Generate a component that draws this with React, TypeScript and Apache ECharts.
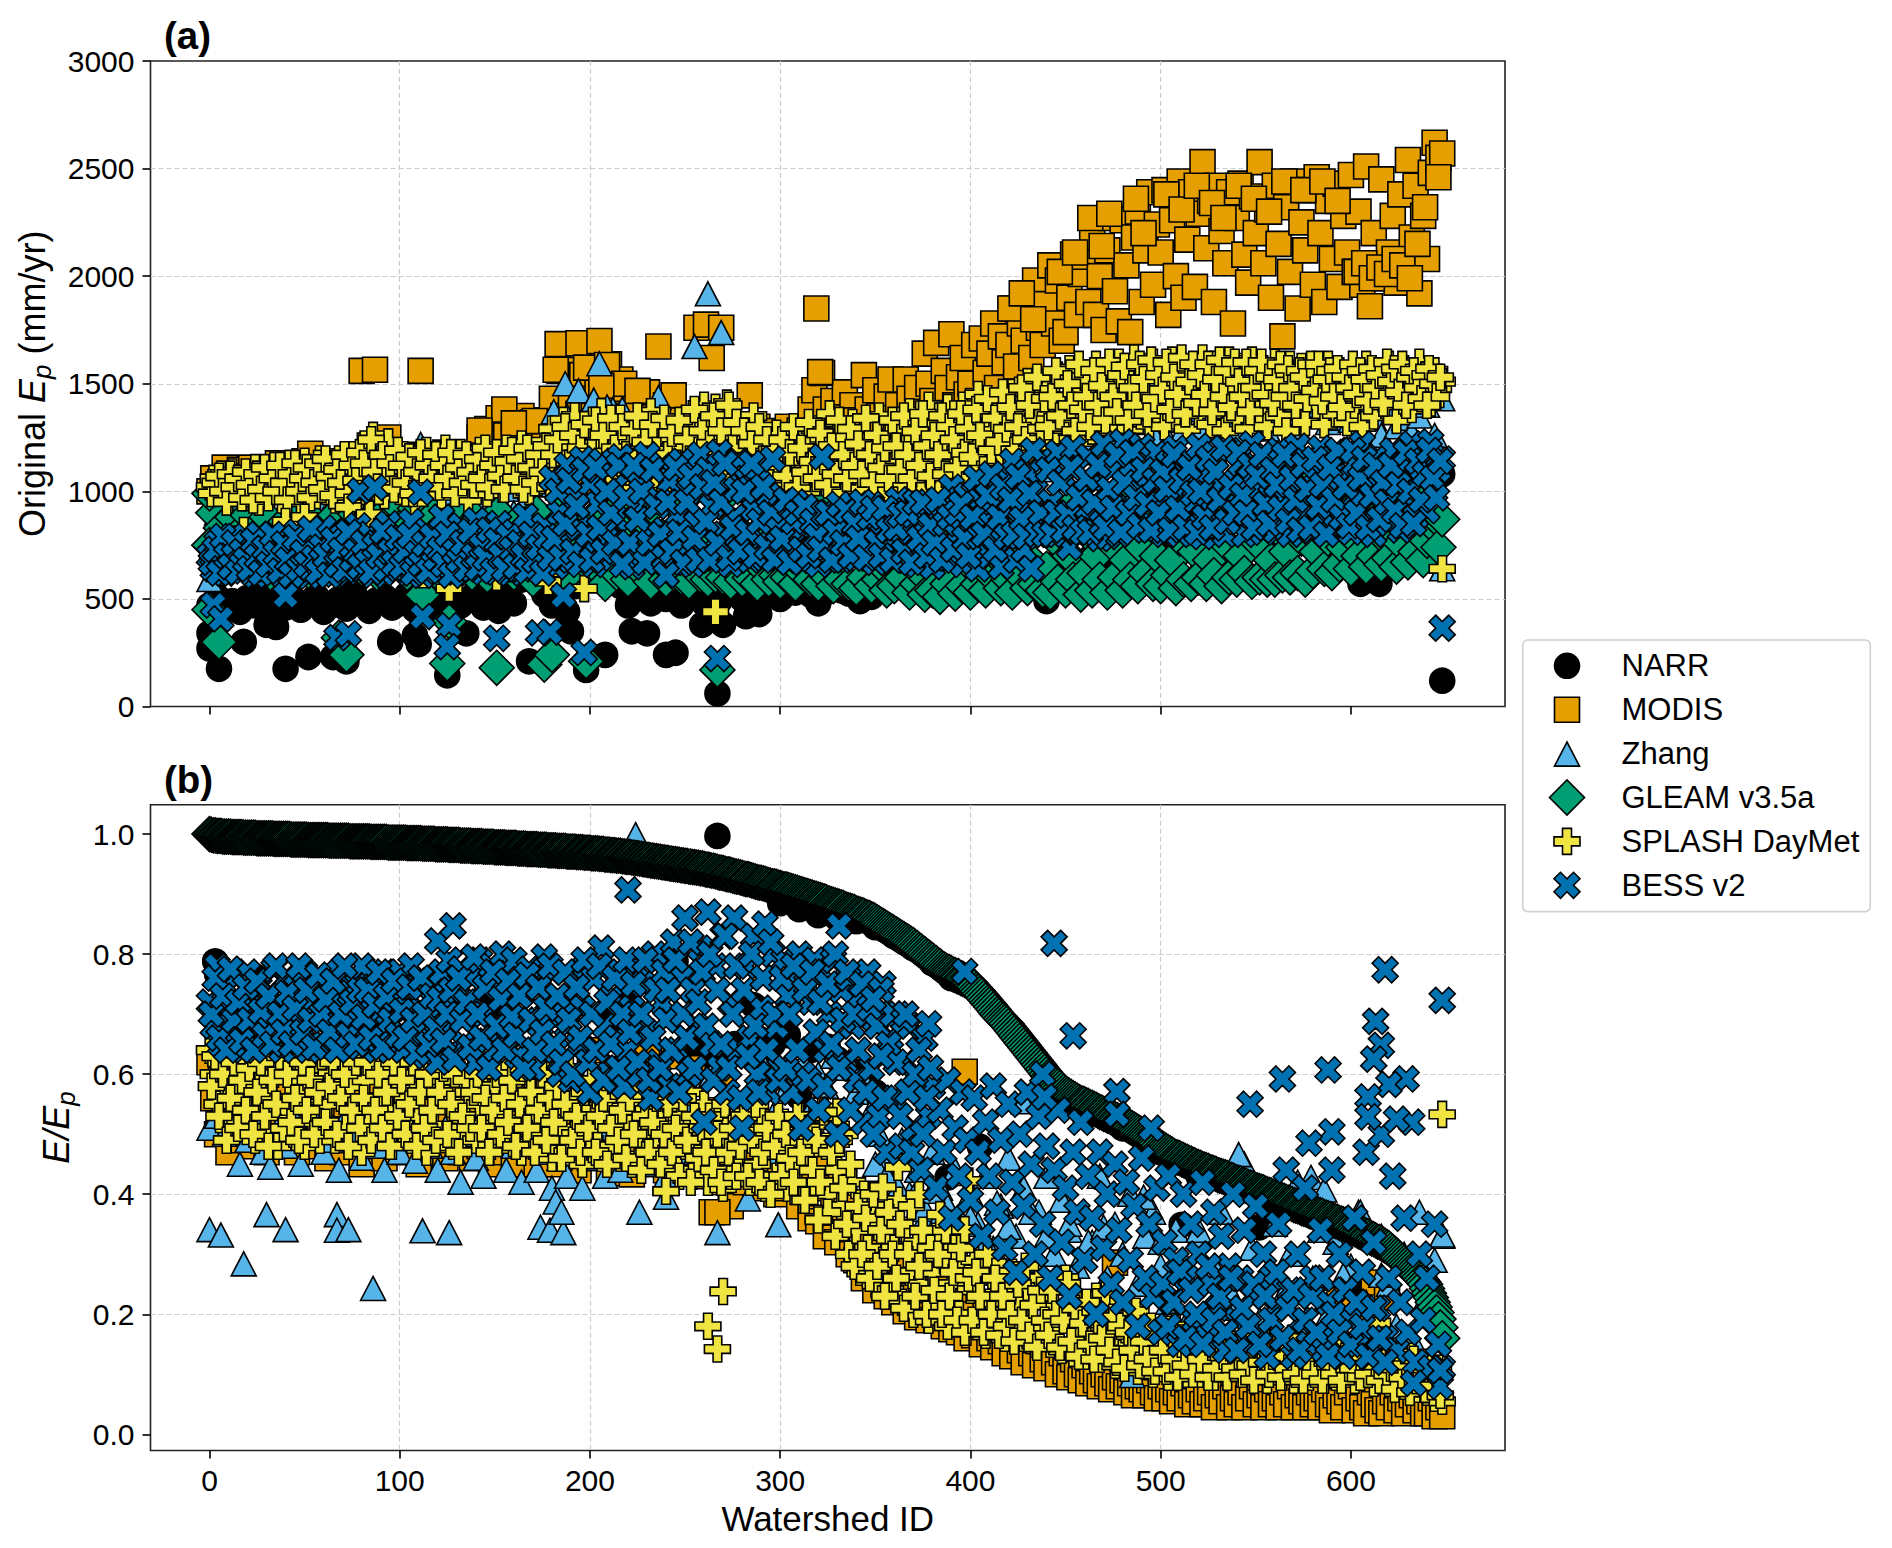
import React, { useEffect, useRef } from "react";
import * as echarts from "echarts";

const seriesNames = ["NARR", "MODIS", "Zhang", "GLEAM v3.5a", "SPLASH DayMet", "BESS v2"];
const seriesColors = ["#000000", "#E69F00", "#56B4E9", "#009E73", "#F0E442", "#0072B2"];
const xTicks = [0, 100, 200, 300, 400, 500, 600];
const yTicksA = [0, 500, 1000, 1500, 2000, 2500, 3000];
const yTicksB = [0, 0.2, 0.4, 0.6, 0.8, 1.0];

// Panel (a): values in mm/yr; bands hold one value per `step` watershed IDs
const narrA = [470,510,455,490,440,505,470,520,445,495,460,
500,450,485,515,440,470,500,455,525,480,445,
495,510,460,480,520,450,490,505,440,475,515,
470,500,530,460,490,445,515,480,590,640,610,
520,470,500,440,560,620,650,610,660,590,560,
470,510,545,480,520,500,540,470,510,530,480,
510,490,530,550,500,520,540,510,530,500,540,
530,550,520,545,530,560,540,525,550,535,510,
560,540,580,560,600,570,590,580,610,560,600,
590,620,600,640,610,590,630,620,650,600,640,
620,660,640,680,650,640,700,680,660,640,690,
700,720,680,740,760,710,800,850,900,820,960,
1010,1000,900,960,1020,880,820,760,700,1010,1005,
960,1050,900,1010,1080,760,700,820,970,1040,760,
1000,1120,980,1050,1100,1060,1090,1050];
const narrAOut = [[0,340],[0,270],[5,175],[18,300],[40,175],[52,230],[30,380],[35,370],[65,230],[72,210],[95,300],[110,290],[125,145],[108,330],[135,340],[168,210],[190,350],[198,170],[208,240],[222,350],[230,340],[240,240],[245,250],[259,380],[267,60],[270,380],[289,430],[282,420],[320,480],[342,490],[440,490],[605,570],[615,570],[648,120],[648,1080],[608,1380],[630,1400]];
const modisA = [1000,1060,1010,1040,1110,1020,1070,1000,1100,1040,
1070,1110,1000,1050,1090,1020,1100,1060,1130,1010,
1110,1050,1130,1020,1080,1140,1040,1090,1120,1060,
1100,1050,1140,1080,1020,1130,1070,1150,1060,1100,
1110,1040,1170,1080,1130,1050,1100,1180,1060,1140,
1090,1160,1030,1120,1080,1170,1050,1130,1090,1150,
1060,1130,1180,1040,1110,1170,1080,1140,1060,1150,
1100,1250,1160,1290,1110,1220,1340,1170,1260,1140,
1300,1190,1350,1130,1260,1320,1190,1280,1210,1330,
1430,1280,1560,1350,1620,1440,1680,1360,1540,1430,
1600,1350,1490,1550,1400,1590,1450,1360,1520,1290,
1350,1260,1420,1210,1290,1460,1230,1330,1190,1270,
1400,1210,1300,1150,1260,1190,1330,1130,1240,1290,
1180,1260,1130,1220,1290,1150,1230,1100,1290,1180,
1250,1130,1230,1160,1300,1190,1120,1240,1170,1280,
1130,1230,1300,1180,1260,1140,1290,1200,1380,1470,
1280,1550,1380,1300,1420,1260,1350,1460,1290,1400,
1330,1270,1540,1380,1290,1470,1350,1310,1440,1520,
1340,1400,1290,1520,1430,1330,1480,1370,1640,1500,
1420,1690,1360,1560,1480,1730,1400,1530,1620,1450,
1500,1680,1420,1710,1550,1640,1780,1480,1720,1600,
1680,1850,1580,1780,1700,1900,1620,1980,1760,1680,
1870,2050,1780,1980,1700,1740,1900,2100,1820,2010,
2090,1880,2180,1820,2000,1750,2120,2270,1930,1790,
2260,2050,1740,2180,2300,1880,2120,2390,1960,2240,
2110,2400,1820,2260,2000,2440,1900,2170,2390,1950,
2290,2530,2130,2350,1880,2420,2210,2060,2390,1780,
2270,2430,2100,1970,2370,2200,2530,2060,2310,1900,
2420,2150,1720,2320,2020,2440,1850,2250,2120,2400,
1960,2460,2200,1880,2350,2080,2430,1950,2280,2110,
2470,2020,2300,1960,2510,1860,2200,2050,2450,1990,
2110,2280,1970,2380,2060,2540,2180,2420,1920,2280,
2080,2480,2620,2550,2570];
const modisAOut = [[80,1560],[87,1565],[111,1560],[183,1684],[194,1688],[205,1699],[182,1565],[198,1575],[209,1587],[218,1500],[206,1490],[236,1673],[256,1760],[261,1775],[269,1760],[264,1620],[284,1446],[155,1380],[171,1327],[142,1283],[160,1316],[244,1446],[225,1467],[94,1250],[53,1175],[319,1850],[321,1554],[646,2460],
[421,1850],[427,1920],[433,1800],[447,2020],[455,2110],[463,2270],[469,2140],[473,2290],[487,2360],[491,2200],[503,2380],[511,2310],[519,2420],[527,2340],[533,2270],[541,2420],[549,2360],[557,2300],[565,2440],[575,2400],[585,2440],[593,2350],[603,2020],[607,2060],[611,1990],[615,2040],[619,2010],[623,2080],[627,2050],[631,1990],[635,2150],[639,2320]];
const zhangA = [590,900,960,850,930,990,880,950,1000,870,
940,880,990,900,960,870,1010,930,880,970,
1020,900,1080,960,880,1010,940,1100,980,900,
1000,950,1060,890,990,1030,930,1080,970,1010,
900,1060,980,1120,1030,1280,1050,1350,1200,1090,
1300,1140,1250,1380,1170,1300,1100,1330,1210,1120,
1270,1090,1340,1180,1030,1290,1150,1210,1080,1250,
1010,1320,1140,1040,1200,1080,1270,1000,1130,1060,
1180,1000,1090,1150,980,1060,920,1120,1000,960,
1040,900,1080,960,1000,880,1050,930,1010,1070,
950,1120,1010,1170,1060,1230,1090,1280,1130,1200,
1240,1100,1310,1160,1260,1210,1300,1180,1320,1240,
1290,1350,1200,1320,1270,1360,1240,1330,1290,1380,
1300,1360,1250,1390,1320,1280,1370,1340,1390,1290,
1360,1330,1400,1290,1370,1350,1400,1320,1340,1380,
1330,1300,1370,1340,1260,1390,1300,1340,1270,1350,
1400,1260,1430];
const zhangAOut = [[262,1918],[269,1738],[255,1673],[205,1593],[187,1500],[194,1467],[236,1435],[202,1424],[217,1381],[181,1370],[209,1392],[111,1218],[648,640]];
const gleamA = [750,900,690,830,640,780,880,660,810,720,
890,650,770,840,700,880,620,760,820,690,
860,640,740,900,680,800,630,870,720,780,
650,840,710,890,630,770,820,680,900,740,
640,860,700,790,620,880,730,810,660,940,
700,850,620,780,920,670,820,740,640,890,
730,600,850,690,800,640,910,720,780,620,
870,690,760,610,840,730,900,650,790,700,
620,860,740,680,810,590,900,700,770,640,
620,590,700,850,600,950,660,780,1040,610,
720,880,640,1000,570,780,930,620,1080,690,
590,840,740,1020,620,900,580,1100,680,790,
590,960,620,1090,600,830,580,1000,690,610,
1100,590,780,610,950,600,1060,580,840,620,
590,720,600,980,570,650,1080,590,800,610,
580,900,600,740,570,1010,620,850,590,680,
570,1000,610,780,560,900,590,690,570,830,
550,960,600,720,560,850,590,650,540,800,
560,940,600,700,530,840,570,620,520,780,
540,900,510,660,570,820,525,730,560,880,
530,640,570,790,540,900,600,700,550,820,
590,530,760,610,900,550,680,570,840,540,
640,530,780,580,880,540,700,590,960,520,
620,800,540,700,590,900,530,760,600,1000,
540,680,590,820,560,740,620,920,570,700,
560,860,610,680,550,780,590,980,570,720,
600,840,570,680,610,900,560,760,600,1000,
590,700,620,860,580,770,600,960,590,680,
590,820,610,720,600,940,620,780,590,1040,
630,720,880,640,780,620,990,660,740,900,
640,780,700,940,650,840,700,1040,660,780,
690,880,650,760,1000,670,820,720,950,680,
770,850,880,740,870];
const gleamAOut = [[0,990],[0,750],[0,450],[5,300],[68,320],[72,240],[112,520],[125,200],[126,395],[151,180],[176,195],[180,240],[198,210],[267,170],[187,600]];
const splashA = [1020,1060,1000,1080,1040,960,1090,1010,1050,970,
1070,1000,1110,950,1040,1090,990,1120,1030,960,
1080,1130,1010,1060,950,1140,1040,1090,980,1150,
1060,1000,1120,960,1150,1030,1090,940,1160,1050,
1210,1000,1100,1260,1050,1150,980,1230,1080,1140,
1000,1170,1060,1120,950,1160,1020,1190,1090,1040,
1150,980,1200,1060,1120,1000,1180,1080,960,1150,
1040,1190,1100,990,1170,1060,1130,1010,1200,1080,
1140,1030,1220,1090,1000,1180,1120,1050,1230,1080,
1290,1150,1060,1330,1200,1100,1350,1010,1260,1130,
1310,1080,1220,1370,1140,1030,1280,1190,1340,1090,
1240,1150,1020,1300,1180,1090,1370,1060,1250,1140,
1330,1020,1200,1100,1290,1040,1160,1360,1080,1230,
1400,1320,1130,1390,1020,1260,1410,1090,1180,1300,
1050,1240,1120,1350,1030,1200,1090,1160,1020,1270,
1100,1190,1040,1280,1130,1060,1230,1000,1150,1290,
1080,1200,1040,1360,1110,1250,990,1170,1080,1320,
1130,1010,1260,1090,1190,1050,1350,1140,1000,1240,
1120,1290,1040,1200,1370,1090,1250,1000,1180,1400,
1110,1310,1020,1220,1390,1150,1290,1060,1400,1200,
1310,1120,1450,1220,1360,1080,1280,1420,1170,1350,
1240,1460,1130,1380,1290,1510,1210,1420,1330,1180,
1480,1350,1240,1540,1400,1290,1570,1340,1450,1230,
1530,1380,1280,1590,1430,1320,1560,1470,1300,1600,
1400,1510,1290,1620,1360,1570,1450,1310,1600,1380,
1540,1300,1470,1610,1350,1580,1430,1290,1560,1500,
1360,1620,1450,1310,1590,1400,1530,1280,1610,1470,
1340,1580,1430,1290,1610,1510,1370,1570,1300,1440,
1600,1350,1530,1280,1590,1460,1390,1580,1320,1500,
1570,1400,1540,1310,1590,1450,1360,1560,1480,1320,
1530,1400,1500,1300,1590,1440,1350,1550,1480,1400,
1590,1460,1330,1530,1570,1420,1380,1500,1600,1450,
1540,1410,1560,1480,1510];
const splashAOdd = [990,1040,1070,1000,950,1080,1020,1060,970,1090,
1030,960,1080,1010,1110,970,1060,1000,1120,1040,
960,1080,1130,1000,1060,1110,970,1040,1130,1010,
1150,1070,980,1100,1040,1170,990,1120,1050,1180,
1130,1030,1240,1090,1000,1170,1060,1130,1010,1190,
1120,1040,1160,990,1090,1180,1030,1120,1060,1170,
1020,1120,1060,1180,990,1110,1040,1170,1090,1030,
1150,1060,1200,1020,1120,1180,1070,1010,1140,1190,
1060,1150,1010,1200,1110,1040,1170,1090,1210,1020,
1170,1240,1090,1300,1130,1260,1040,1200,1310,1110,
1180,1330,1060,1260,1110,1340,1200,1050,1300,1170,
1090,1280,1350,1130,1230,1040,1310,1190,1100,1340,
1170,1270,1060,1330,1120,1240,1060,1380,1190,1280,
1090,1220,1350,1150,1280,1060,1400,1200,1320,1100,
1280,1090,1220,1040,1300,1150,1240,1060,1190,1120,
1240,1070,1180,1300,1020,1200,1090,1320,1140,1060,
1270,1140,1030,1210,1080,1330,1170,1060,1290,1120,
1220,1080,1340,1170,1040,1260,1110,1200,1060,1330,
1210,1100,1350,1170,1060,1280,1120,1360,1210,1070,
1260,1170,1350,1080,1300,1240,1110,1360,1180,1290,
1160,1380,1260,1100,1430,1190,1340,1230,1460,1290,
1390,1190,1300,1480,1240,1400,1170,1530,1290,1430,
1300,1440,1560,1350,1200,1500,1400,1280,1590,1380,
1440,1300,1560,1400,1490,1330,1600,1440,1370,1540,
1580,1330,1480,1400,1590,1520,1360,1610,1430,1540,
1470,1600,1380,1530,1450,1620,1360,1510,1590,1410,
1540,1450,1590,1370,1520,1610,1440,1560,1390,1600,
1510,1440,1600,1370,1480,1560,1600,1450,1530,1410,
1520,1590,1440,1570,1480,1400,1560,1530,1430,1590,
1470,1590,1420,1520,1560,1440,1570,1390,1530,1480,
1590,1450,1560,1520,1420,1570,1480,1540,1410,1600,
1510,1570,1460,1590,1400,1530,1560,1480,1430,1540,
1570,1500,1440,1530];
const splashAOut = [[18,818],[40,860],[50,880],[73,926],[84,894],[112,612],[126,548],[151,600],[177,623],[178,580],[186,710],[197,548],[266,440],[234,1078],[648,640],[640,1400]];
const bessA = [700,640,760,680,620,730,790,650,705,630,
750,670,610,800,690,640,725,780,660,615,
745,690,630,810,665,720,605,770,640,700,
830,650,735,615,685,790,625,755,670,840,
640,720,800,610,690,760,645,850,675,620,
780,700,640,860,660,735,610,815,685,750,
630,880,705,655,770,625,840,690,745,640,
865,680,625,790,715,650,850,670,755,620,
810,690,640,885,725,660,770,630,840,700,
1060,650,900,760,1120,680,980,830,1150,720,
1040,660,940,1140,780,1000,690,870,1160,740,
1080,650,930,1030,710,1170,820,690,960,1120,
780,1050,670,890,1140,730,1000,660,850,1170,
720,1100,930,690,1180,800,1020,660,880,1140,
730,1060,680,920,1110,770,690,980,1150,720,
880,700,920,760,950,680,830,870,720,900,
660,1160,800,900,710,860,680,880,760,920,
690,850,900,720,940,670,810,860,740,880,
680,960,770,910,700,860,660,850,790,920,
650,880,740,930,690,1020,800,960,660,980,
730,990,640,870,1040,700,950,780,650,1060,
840,1140,680,920,730,1090,640,1000,810,1150,
830,950,800,1180,830,1060,740,1200,810,980,
880,1160,820,1040,780,1220,790,1100,930,800,
1230,860,1120,840,1000,1210,820,1070,830,1180,
950,800,1130,880,1200,800,1020,1150,850,960,
1210,790,1090,920,1170,840,1040,800,1190,980,
860,1130,800,1060,1220,900,1000,810,1160,1040,
820,1190,950,1100,800,1020,1210,880,1140,970,
810,1090,1200,860,1010,1150,830,1060,920,1180,
810,1130,970,1220,860,1040,800,1160,930,1090,
850,1190,1010,820,1130,950,1220,880,1060,1170,
910,1230,1000,1100,1150];
const bessAOdd = [670,730,620,790,700,650,760,625,720,680,
640,770,695,620,735,660,800,710,630,755,
680,610,785,640,715,660,825,690,625,740,
700,610,775,660,725,635,810,685,720,650,
760,670,625,745,700,815,640,720,665,785,
650,725,795,620,710,665,755,630,790,690,
730,660,800,610,720,680,760,640,815,700,
645,745,690,820,630,770,700,640,790,730,
650,760,700,630,800,680,740,620,790,690,
780,1000,690,850,1050,720,930,660,1100,800,
680,1110,830,720,1000,900,760,1120,660,970,
760,1120,870,1000,670,760,1100,930,800,690,
950,720,1110,810,670,950,1070,780,680,1020,
860,680,1040,760,950,1130,690,830,1010,720,
1000,810,1130,700,860,1020,740,900,680,820,
780,960,670,860,900,730,930,700,860,790,
730,900,900,680,810,940,760,910,700,850,
780,950,690,880,920,760,700,920,820,680,
830,890,720,900,670,950,780,950,700,840,
760,960,680,850,880,730,900,940,780,700,
880,1060,790,800,980,1080,730,880,1020,790,
960,800,1070,870,790,990,1190,800,900,800,
1100,800,900,1040,820,890,1110,830,970,810,
1060,810,950,1120,850,830,1010,920,1170,810,
1040,900,1180,970,840,1100,940,820,1050,900,
1090,1010,820,1170,920,1050,830,1110,990,810,
1000,880,1150,830,1090,960,1200,860,1020,900,
1180,980,900,1120,830,1070,1170,940,850,1100,
1030,920,1170,860,1060,960,820,1120,1010,830,
1150,930,1030,800,1110,960,1190,880,1020,840,
1190,900,1060,1150,830,980,1120,870,1040,950,
1120,910,1030,840,1180,1000,850,1140,960,1080,
1190,1060,970,1140];
const bessAOut = [[2,472],[6,407],[40,515],[67,320],[73,338],[112,418],[126,376],[125,278],[151,317],[173,342],[179,346],[186,515],[197,251],[267,223],[79,1002],[87,1017],[111,996],[240,612],[648,364]];

// Panel (b): values are E/Ep x 1000
const narrBOut = [[3,788],[4,767],[24,763],[63,763],[146,740],[220,734],[224,684],[245,788],[286,715],[267,997],[289,659],[300,671],[252,650],[260,638],[325,646],[340,604],[310,562],[388,428],[405,479],[511,349],[552,345],[605,244],[300,885],[310,875],[320,865],[330,860],[340,855],[350,845],[360,830],[370,810],[380,785],[390,760],[445,580],[460,530],[480,510],[500,470],[520,430],[540,410],[256,640],[262,625],[270,640],[276,650],[282,655],[292,640],[296,650],[304,665],[316,640],[330,625],[335,610],[345,590],[350,570],[30,700],[60,710],[90,700],[120,710],[150,700],[180,705],[210,690]];
const modisB = [620,560,500,590,540,470,610,520,570,490,
610,480,550,590,500,470,600,530,480,560,
490,580,520,470,600,510,560,480,570,500,
600,460,540,510,580,470,550,600,490,530,
450,560,500,590,480,540,460,570,510,490,
550,470,520,580,490,450,560,510,470,540,
500,570,460,530,490,580,470,510,550,460,
530,480,570,500,450,540,490,560,470,510,
450,540,490,560,470,520,450,510,570,480,
450,530,490,550,460,520,480,440,540,470,
640,510,460,530,480,440,520,470,550,450,
435,500,620,460,540,630,450,510,480,560,
440,500,630,470,520,440,490,610,450,510,
430,480,370,540,420,600,470,380,500,430,
470,420,540,440,480,410,520,430,460,400,
440,500,410,470,430,380,490,420,360,440,
355,460,330,410,390,320,430,350,300,380,
290,360,260,340,280,240,310,270,230,300,
220,290,250,205,280,230,195,260,210,190,
240,190,220,180,250,175,210,170,230,160,
200,165,185,150,210,160,145,190,155,135,
175,130,160,140,120,170,135,115,155,125,
110,145,120,100,135,105,95,125,100,90,
115,85,105,90,80,100,85,75,95,80,
90,70,85,65,80,75,65,90,70,60,
80,60,75,55,70,60,85,50,65,55,
75,50,60,70,45,65,55,80,45,60,
50,70,45,60,80,50,65,45,75,50,
60,45,70,50,80,45,65,55,45,70,
50,60,45,75,50,40,65,55,45,70,
80,40,60,45,35,70,50,40,35,55,
45,70,40,60,35,50,65,40,55,35,
35,60,30,45,30];
const modisBOut = [[397,604],[476,286],[594,223],[612,253],[619,228],[222,433],[267,370]];
const zhangB = [510,530,500,540,450,490,530,470,445,510,
480,530,450,500,520,470,490,440,530,500,
460,510,480,440,520,470,500,455,530,480,
440,510,470,420,500,460,430,490,520,440,
480,420,500,440,470,410,460,430,490,410,
460,510,430,480,440,500,560,450,520,470,
430,510,460,550,470,520,600,480,540,440,
500,560,490,610,530,470,580,510,620,540,
600,580,630,610,620,570,590,540,500,450,
420,490,400,440,360,470,410,380,440,350,
400,350,430,310,380,460,330,410,290,370,
430,300,390,340,280,370,320,430,260,350,
300,400,250,330,370,280,220,340,290,200,
330,180,280,370,240,210,450,310,190,270,
350,230,300,420,170,260,340,200,320,150,
280,370,220,130,330,250,180,300,160,370,
230,290,330];
const zhangBOut = [[0,341],[6,332],[18,284],[30,366],[40,341],[67,366],[67,340],[73,341],[86,243],[112,339],[126,336],[174,345],[179,340],[186,336],[182,387],[185,370],[226,370],[267,336],[299,349],[224,999],[283,392],[240,395],[648,332],[541,466],[579,428],[491,395],[428,554],[485,98],[616,265],[596,265],[605,370],[586,407],[350,450],[356,430],[362,410],[370,395],[376,375],[382,350],[388,380],[394,340],[400,360],[408,320],[414,385],[420,345],[432,370],[440,330],[452,350],[462,320],[470,345],[500,320],[520,340],[380,405]];
const gleamRidge = [1000,999,998,998,997,997,997,996,996,996,
996,996,995,995,995,995,995,995,994,994,
994,994,994,994,994,993,993,993,993,993,
993,993,993,993,992,992,992,992,992,992,
992,992,992,991,991,991,991,991,991,991,
991,991,990,990,990,990,990,990,990,990,
990,990,990,989,989,989,989,989,989,989,
989,989,989,989,988,988,988,988,988,988,
988,988,988,988,988,987,987,987,987,987,
987,987,987,987,986,986,986,986,986,986,
986,986,986,986,985,985,985,985,985,985,
985,985,984,984,984,984,984,984,984,983,
983,983,983,983,983,983,982,982,982,982,
982,982,981,981,981,981,981,981,980,980,
980,980,980,980,979,979,979,979,979,979,
978,978,978,978,978,978,977,977,977,977,
977,977,976,976,976,976,976,975,975,975,
975,975,975,974,974,974,974,974,973,973,
973,973,973,972,972,972,972,972,971,971,
971,971,971,970,970,970,970,969,969,969,
969,968,968,968,968,967,967,967,966,966,
966,965,965,965,964,964,964,963,963,962,
962,962,961,961,960,960,959,959,958,958,
957,957,956,956,955,955,954,954,953,953,
952,952,951,951,950,950,949,949,948,948,
947,947,946,946,945,945,944,944,943,943,
942,941,941,940,939,939,938,937,936,936,
935,934,933,933,932,931,930,929,929,928,
927,926,925,925,924,923,922,921,920,919,
919,918,917,916,915,914,913,913,912,911,
910,909,908,908,907,906,905,904,903,902,
901,900,899,898,897,896,895,894,893,892,
891,890,889,888,887,885,884,883,882,881,
880,879,878,877,875,874,873,872,871,870,
868,867,866,865,864,862,861,860,858,857,
855,853,851,849,847,845,843,841,839,837,
835,833,831,829,827,825,823,821,819,817,
815,812,810,807,805,802,800,797,795,792,
790,787,785,782,780,777,775,773,771,770,
768,766,765,763,762,760,759,757,755,753,
752,748,745,741,738,734,731,727,723,719,
716,712,708,704,700,697,693,690,687,684,
680,676,672,668,664,660,656,652,648,644,
640,636,632,628,624,620,616,612,608,604,
600,596,592,589,586,583,580,577,574,571,
568,566,564,562,560,558,556,554,552,551,
550,548,547,545,544,542,541,539,537,536,
534,533,531,530,528,527,525,524,522,521,
520,518,516,514,512,510,508,506,504,502,
500,498,496,494,492,490,488,486,484,481,
478,476,474,472,470,468,466,464,462,461,
460,458,457,455,454,452,451,449,448,446,
445,444,442,441,440,439,437,436,435,434,
432,431,430,429,428,427,425,424,423,421,
420,419,418,416,415,414,412,411,410,409,
407,406,405,404,403,401,400,399,398,396,
395,394,393,391,390,389,387,386,385,384,
382,381,380,379,377,376,375,374,372,371,
370,369,367,366,365,364,362,361,360,359,
357,356,355,354,352,351,350,349,347,346,
345,343,342,340,338,337,335,333,331,330,
328,326,325,323,321,320,318,316,314,312,
310,307,304,301,298,295,292,289,286,283,
280,277,274,271,268,265,262,258,254,250,
243,235,228,220,212,203,192,178,160];
const splashB = [640,600,550,620,580,510,630,570,520,600,
540,620,490,580,630,510,560,600,480,620,
540,590,500,630,560,480,610,520,580,490,
630,550,600,490,570,620,510,580,540,610,
470,590,520,630,500,560,610,540,480,590,
520,620,560,490,600,530,580,470,610,540,
500,590,560,620,480,540,600,510,570,610,
490,550,600,520,480,580,530,610,490,560,
510,600,470,550,590,480,530,570,500,600,
460,540,510,580,470,560,500,590,450,530,
490,570,510,460,550,600,480,530,460,570,
510,450,560,500,540,470,590,480,530,460,
405,510,560,440,530,480,570,430,520,470,
550,420,500,460,540,410,490,430,520,440,
480,540,420,500,450,530,410,480,510,430,
470,520,410,490,440,530,390,470,510,420,
360,540,480,400,530,440,380,500,300,420,
340,270,400,310,380,250,350,290,330,240,
310,390,220,340,270,200,320,250,300,190,
270,330,215,290,180,250,310,200,280,170,
240,290,180,270,165,220,285,190,250,160,
230,270,170,210,160,245,190,150,260,175,
215,150,240,180,140,260,200,135,220,170,
130,205,160,230,125,180,145,215,115,170,
135,195,120,160,105,185,130,170,100,150,
120,165,95,140,180,110,155,100,135,170,
100,145,120,165,95,130,155,105,140,120,
150,100,125,160,95,135,110,150,90,130,
110,145,95,125,155,90,130,105,145,95,
130,110,150,90,120,140,95,125,150,100,
135,90,120,185,100,145,85,125,105,140,
85,120,100,135,80,110,130,75,105,120,
70,95,60,110,55];
const splashBOdd = [580,630,530,600,490,560,620,510,590,540,
610,500,570,620,530,480,590,550,630,510,
600,520,560,490,620,540,590,500,570,630,
520,580,620,500,560,600,480,540,620,510,
560,620,490,540,600,510,570,480,620,530,
590,500,550,620,480,570,510,600,540,490,
570,610,500,550,600,470,530,590,510,570,
600,510,560,470,540,600,500,560,520,590,
480,550,610,510,570,470,540,600,490,560,
520,580,460,550,610,490,530,470,570,510,
590,470,530,560,450,510,580,490,540,460,
560,500,580,440,530,470,520,560,450,500,
550,470,510,430,560,490,420,530,460,510,
470,530,440,500,420,550,470,510,430,480,
530,430,490,550,420,470,510,400,480,530,
430,500,460,420,530,470,390,510,440,490,
420,530,370,470,330,490,410,350,450,280,
380,300,360,260,400,280,340,230,370,300,
260,350,210,300,380,230,280,340,200,310,
240,300,200,340,230,270,190,310,170,260,
190,270,230,170,300,200,260,165,230,180,
200,155,250,190,280,165,215,145,240,190,
165,240,200,145,190,250,155,210,130,185,
220,150,125,190,160,235,140,195,120,180,
110,170,140,205,115,155,125,180,105,165,
140,105,175,125,95,150,115,170,100,140,
125,165,95,145,110,160,130,95,150,110,
130,100,155,115,90,145,120,160,100,130,
150,95,130,110,160,100,135,90,125,150,
100,135,90,155,115,100,145,90,130,110,
110,150,95,130,100,140,115,90,130,100,
110,75,130,95,115,70,125,90,110,75,
115,80,100,65];
const splashBOut = [[648,533],[270,238],[262,180],[267,142],[240,405],[614,186],[399,422],[397,341],[384,366],[373,399],[362,445],[354,412],[320,357],[330,537],[323,537]];
const bessB = [720,680,780,650,740,700,660,760,690,640,
770,710,660,745,690,650,735,775,680,640,
760,700,655,745,680,770,640,725,690,755,
650,745,700,660,770,715,645,735,690,750,
780,660,720,745,640,700,770,680,650,735,
770,640,710,780,660,745,690,630,755,700,
620,770,680,790,640,730,775,650,710,760,
620,790,700,655,780,640,745,800,660,715,
790,630,735,690,775,610,750,660,795,700,
770,640,600,720,680,590,750,650,710,780,
570,760,640,810,680,600,730,660,770,580,
640,710,780,600,750,670,560,800,620,720,
690,580,820,640,760,860,600,740,680,810,
520,870,650,780,610,830,570,720,860,640,
510,780,660,830,600,710,850,570,800,680,
610,790,730,570,760,800,600,750,720,790,
540,770,640,700,790,500,740,620,760,680,
590,730,520,770,610,690,530,750,470,660,
560,700,480,620,680,510,590,440,660,530,
580,410,540,470,590,360,510,430,570,490,
390,560,470,330,520,430,580,370,490,310,
550,420,270,500,380,570,450,300,530,350,
480,260,440,540,320,410,230,470,370,520,
290,430,360,200,470,310,400,250,450,340,
220,420,290,380,180,460,260,350,230,410,
170,320,430,220,290,150,400,260,350,190,
300,420,160,250,370,210,330,140,280,400,
190,260,340,150,230,380,170,300,130,260,
210,350,160,440,240,130,300,190,410,150,
260,170,340,140,220,440,180,300,130,240,
190,360,150,270,470,130,320,210,500,160,
260,430,140,220,360,170,520,120,300,190,
260,110,350,150,110];
const bessBOdd = [700,760,660,730,640,775,690,720,655,745,
690,640,755,705,665,730,650,780,700,670,
735,650,710,780,670,740,690,645,765,700,
725,670,755,640,700,780,665,720,650,740,
695,740,660,715,770,645,730,690,755,665,
705,660,745,690,635,760,700,650,730,675,
725,655,700,740,625,760,690,720,645,795,
700,660,745,610,770,680,725,640,755,695,
665,730,610,765,690,640,745,670,710,780,
650,730,620,770,690,600,745,660,790,620,
700,640,780,590,720,650,760,610,700,790,
670,750,620,700,790,590,660,740,610,770,
740,640,790,570,700,660,820,610,720,770,
680,800,590,740,650,830,610,700,780,560,
740,630,800,680,570,760,640,820,700,590,
760,610,700,780,640,510,740,590,770,670,
720,580,750,650,800,610,690,770,540,700,
640,750,570,710,500,680,740,560,650,700,
620,530,690,570,470,600,640,500,560,610];
const bessBLate = [250,180,220,270,160,240,200,150,280,190,
230,170,260,140,210,180,250,150,230,190,
270,160,210,240,140,190,230,170,260,130,
200,170,240,150,220,180,130,210,160,120];
const bessBOut = [[120,822],[128,847],[220,907],[331,847],[444,818],[454,664],[477,571],[477,533],[495,510],[397,771],[438,600],[439,562],[564,592],[547,550],[588,607],[618,774],[648,723],[613,688],[616,648],[612,625],[629,592],[620,583],[609,562],[624,525],[609,529],[590,504],[578,485],[378,684],[353,630],[366,700],[349,725],[633,85],[647,80],[647,106]];

const plusPath = "M-1 -3L1 -3L1 -1L3 -1L3 1L1 1L1 3L-1 3L-1 1L-3 1L-3 -1L-1 -1Z";
const crossPath = "M-1 -2L0 -1L1 -2L2 -1L1 0L2 1L1 2L0 1L-1 2L-2 1L-1 0L-2 -1Z";
const seriesSymbols = ["circle", "rect", "triangle", "diamond", "path://" + plusPath, "path://" + crossPath];
const seriesSizes = [25, 25, [25, 24], 35, 26, 26];
const legendIcons = [
  "path://M0 0M35 35M5 17.5A12.5 12.5 0 1 1 30 17.5A12.5 12.5 0 1 1 5 17.5Z",
  "path://M0 0M35 35M5 5L30 5L30 30L5 30Z",
  "path://M0 0M35 35M5 30L17.5 6L30 30Z",
  "path://M0 0M35 35M0 17.5L17.5 0L35 17.5L17.5 35Z",
  "path://M0 0M35 35M13 4.5L22 4.5L22 13L30.5 13L30.5 22L22 22L22 30.5L13 30.5L13 22L4.5 22L4.5 13L13 13Z",
  "path://M0 0M35 35M11 4.5L17.5 11L24 4.5L30.5 11L24 17.5L30.5 24L24 30.5L17.5 24L11 30.5L4.5 24L11 17.5L4.5 11Z",
];

const FONT = "Liberation Sans";
const points = (band: number[], step: number, start: number, scale: number) =>
  band.map((v, i) => [start + i * step, v / scale]);
const pairs = (extra: number[][], scale: number) => extra.map((p) => [p[0], p[1] / scale]);

const panelA = [
  [...points(narrA, 4, 0, 1), ...pairs(narrAOut, 1)],
  [...points(modisA, 2, 0, 1), ...pairs(modisAOut, 1)],
  [...points(zhangA, 4, 0, 1), ...pairs(zhangAOut, 1)],
  [...points(gleamA, 2, 0, 1), ...pairs(gleamAOut, 1)],
  [...points(splashA, 2, 0, 1), ...points(splashAOdd, 2, 1, 1), ...pairs(splashAOut, 1)],
  [...points(bessA, 2, 0, 1), ...points(bessAOdd, 2, 1, 1), ...pairs(bessAOut, 1)],
];
const panelB = [
  pairs(narrBOut, 1000),
  [...points(modisB, 2, 0, 1000), ...pairs(modisBOut, 1000)],
  [...points(zhangB, 4, 0, 1000), ...pairs(zhangBOut, 1000)],
  points(gleamRidge, 1, 0, 1000),
  [...points(splashB, 2, 0, 1000), ...points(splashBOdd, 2, 1, 1000), ...pairs(splashBOut, 1000)],
  [...points(bessB, 2, 0, 1000), ...points(bessBOdd, 2, 1, 1000), ...points(bessBLate, 3, 501, 1000), ...pairs(bessBOut, 1000)],
];

const makeSeries = (data: number[][][], axis: number) =>
  data.map((d, i) => ({
    name: seriesNames[i],
    type: "scatter",
    xAxisIndex: axis,
    yAxisIndex: axis,
    data: d,
    symbol: seriesSymbols[i],
    symbolSize: seriesSizes[i],
    progressive: 0,
    large: false,
    silent: true,
    itemStyle: { color: seriesColors[i], borderColor: "#000000", borderWidth: 1.6, opacity: 1 },
  }));

const gridLine = { show: true, showMinLine: false, showMaxLine: false, lineStyle: { color: "#cccccc", width: 1.2, type: [5, 3] } };

const xAxisBase = (grid: number, labels: boolean) => ({
  type: "value",
  gridIndex: grid,
  min: -31,
  max: 681,
  axisLine: { show: false, onZero: false },
  axisTick: { show: true, length: 8, customValues: xTicks, lineStyle: { color: "#000", width: 1.6 } },
  axisLabel: {
    show: labels,
    customValues: xTicks,
    fontSize: 30,
    fontFamily: FONT,
    color: "#000",
    margin: 15,
  },
  splitLine: gridLine,
});

const yAxisBase = (grid: number, min: number, max: number, ticks: number[], fmt: (v: number) => string) => ({
  type: "value",
  gridIndex: grid,
  min,
  max,
  axisLine: { show: false, onZero: false },
  axisTick: { show: true, length: 8, customValues: ticks, lineStyle: { color: "#000", width: 1.6 } },
  axisLabel: {
    customValues: ticks,
    formatter: fmt,
    fontSize: 30,
    fontFamily: FONT,
    color: "#000",
    margin: 16,
  },
  splitLine: gridLine,
});

const nameRich = {
  t: { fontSize: 36, fontFamily: FONT, color: "#000" },
  i: { fontSize: 36, fontFamily: FONT, fontStyle: "italic", color: "#000" },
  s: { fontSize: 26, fontFamily: FONT, fontStyle: "italic", color: "#000", verticalAlign: "bottom", lineHeight: 44 },
};

export default function App() {
  const ref = useRef<HTMLDivElement>(null);
  useEffect(() => {
    const chart = echarts.init(ref.current!, undefined, { renderer: "svg" });
    chart.setOption({
      animation: false,
      backgroundColor: "#ffffff",
      grid: [
        { left: 150.5, top: 61, width: 1354.5, height: 645.5, show: true, borderColor: "#222", borderWidth: 1.6, backgroundColor: "transparent" },
        { left: 150.5, top: 804.7, width: 1354.5, height: 645.8, show: true, borderColor: "#222", borderWidth: 1.6, backgroundColor: "transparent" },
      ],
      xAxis: [
        xAxisBase(0, false),
        {
          ...xAxisBase(1, true),
          name: "Watershed ID",
          nameLocation: "middle",
          nameGap: 50,
          nameTextStyle: { fontSize: 35, fontFamily: FONT, color: "#000" },
        },
      ],
      yAxis: [
        {
          ...yAxisBase(0, 0, 3000, yTicksA, (v: number) => String(v)),
          name: "{t|Original }{i|E}{s|p}{t| (mm/yr)}",
          nameLocation: "middle",
          nameGap: 96,
          nameRotate: 90,
          nameTextStyle: { rich: nameRich, fontSize: 36, fontFamily: FONT, color: "#000" },
        },
        {
          ...yAxisBase(1, -0.027, 1.049, yTicksB, (v: number) => v.toFixed(1)),
          name: "{i|E/E}{s|p}",
          nameLocation: "middle",
          nameGap: 72,
          nameRotate: 90,
          nameTextStyle: { rich: nameRich, fontSize: 36, fontFamily: FONT, color: "#000" },
        },
      ],
      legend: {
        orient: "vertical",
        left: 1522.7,
        top: 640,
        padding: [7.5, 11, 8, 26],
        itemWidth: 35,
        itemHeight: 35,
        itemGap: 7.3,
        selectedMode: false,
        backgroundColor: "#ffffff",
        borderColor: "#d0d0d0",
        borderWidth: 1.6,
        borderRadius: 5,
        textStyle: { fontSize: 31, fontFamily: FONT, color: "#000", padding: [0, 0, 0, 32] },
        itemStyle: { borderColor: "#000", borderWidth: 1.6 },
        data: seriesNames.map((name, i) => ({ name, icon: legendIcons[i] })),
      },
      graphic: [
        { type: "text", x: 164, y: 35, style: { text: "(a)", font: `bold 38.5px "${FONT}"`, fill: "#000", verticalAlign: "middle" } },
        { type: "text", x: 164, y: 779, style: { text: "(b)", font: `bold 38.5px "${FONT}"`, fill: "#000", verticalAlign: "middle" } },
      ],
      series: [...makeSeries(panelA, 0), ...makeSeries(panelB, 1)],
    });
    return () => chart.dispose();
  }, []);
  return <div ref={ref} style={{ position: "absolute", left: 0, top: 0, width: 1892, height: 1548 }} />;
}
